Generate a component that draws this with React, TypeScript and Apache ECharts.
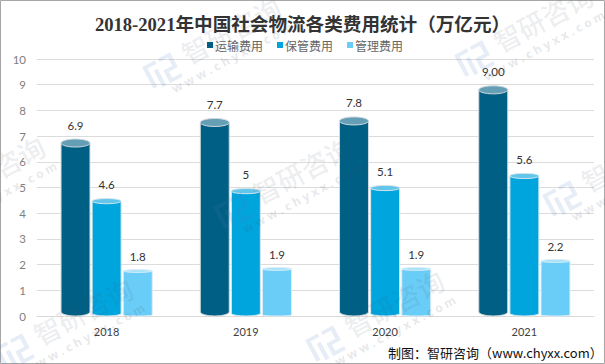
import React, { useEffect, useRef } from "react";
import * as echarts from "echarts";

const categories = ["2018", "2019", "2020", "2021"];
const seriesNames = ["运输费用", "保管费用", "管理费用"];
const transport = [6.73, 7.53, 7.59, 8.8];
const storage = [4.47, 4.86, 4.98, 5.45];
const admin = [1.75, 1.83, 1.83, 2.14];
const transportLabels = ["6.9", "7.7", "7.8", "9.00"];
const storageLabels = ["4.6", "5", "5.1", "5.6"];
const adminLabels = ["1.8", "1.9", "1.9", "2.2"];
const yTicks = { min: 0, max: 10, interval: 1 };

const bodyColors = ["#005f85", "#00a5de", "#69cdf7"];
const capColors = ["#659fb6", "#62c5ea", "#a6e1fa"];
const strokeColors = ["#d3dade", "#d8e6ee", "#d8eef8"];
const capRy = [4, 2.6, 1.4];
const bottomRy = [4, 2.6, 1];
const labelGap = [18, 16.5, 14.5];

const watermarkCenters = [
  [231, 30], [543, 18], [302, 170], [83, 311], [394, 303], [631, 158], [-5, 169],
];

const LOGO =
  "M0 0H20V5H6V34H0ZM12 12H18V38H12ZM25 0H44V23H30V33H44V38H24V18H38V5H25Z";
echarts.graphic.registerShape("logo", echarts.graphic.extendPath(LOGO as any, {}));

function makeSeries(name: string, idx: number, values: number[], labels: string[]) {
  return {
    name,
    type: "custom" as const,
    itemStyle: { color: bodyColors[idx] },
    data: values.map((v, i) => [i, v]),
    encode: { x: 0, y: 1 },
    renderItem: (params: any, api: any) => {
      const i = api.value(0);
      const top = api.coord([i, api.value(1)]);
      const base = api.coord([i, 0]);
      const bandWidth = api.size([1, 0])[0];
      const w = bandWidth * 0.208;
      const cx = top[0] + (idx - 1) * bandWidth * 0.2235;
      const rx = w / 2;
      const ry = capRy[idx];
      const by = bottomRy[idx];
      const l = cx - rx;
      const r = cx + rx;
      const y = top[1];
      const b = base[1];
      const d = `M${l} ${y}L${l} ${b - by}A${rx} ${by} 0 0 0 ${r} ${b - by}L${r} ${y}Z`;
      return {
        type: "group",
        children: [
          {
            type: "path",
            shape: { pathData: d, x: l, y, width: w, height: b - y },
            style: { fill: bodyColors[idx], stroke: strokeColors[idx], lineWidth: 1 },
          },
          {
            type: "ellipse",
            shape: { cx, cy: y, rx, ry },
            style: { fill: capColors[idx], stroke: strokeColors[idx], lineWidth: 1 },
          },
          {
            type: "text",
            style: {
              text: labels[i],
              x: cx,
              y: y - labelGap[idx],
              align: "center",
              verticalAlign: "middle",
              fill: "#333333",
              font: "11.5px Lato, sans-serif",
            },
          },
        ],
      };
    },
  };
}

function watermark([x, y]: number[]) {
  return {
    type: "group",
    x,
    y,
    rotation: 0.49,
    children: [
      {
        type: "text",
        z: 100,
        x: 0,
        y: 0,
        style: {
          text: "智研咨询",
          font: "500 27px 'Noto Sans CJK SC', sans-serif",
          fill: "rgba(70,80,100,0.11)",
          align: "center",
          verticalAlign: "middle",
        },
      },
      {
        type: "text",
        z: 100,
        x: -12,
        y: 25,
        style: {
          text: "w w w . c h y x x . c o m",
          font: "bold 12px 'Noto Sans', sans-serif",
          fill: "rgba(70,80,100,0.15)",
          align: "center",
          verticalAlign: "middle",
        },
      },
      {
        type: "logo",
        z: 100,
        x: -96,
        y: -9,
        scaleX: 0.72,
        scaleY: 0.72,
        style: { fill: "rgba(80,125,190,0.14)" },
      },
    ],
  };
}

export default function App() {
  const ref = useRef<HTMLDivElement>(null);
  useEffect(() => {
    const chart = echarts.init(ref.current!, null, { renderer: "svg" });
    chart.setOption({
      animation: false,
      backgroundColor: "#ffffff",
      title: {
        text: "2018-2021年中国社会物流各类费用统计（万亿元）",
        left: "center",
        top: 10,
        textStyle: {
          fontFamily: "'Liberation Serif', 'Noto Sans CJK SC', serif",
          fontWeight: "bold",
          fontSize: 18.6,
          color: "#333333",
        },
      },
      legend: {
        data: seriesNames,
        left: 202,
        top: 34,
        icon: "rect",
        itemWidth: 6,
        itemHeight: 6,
        itemGap: 14,
        textStyle: {
          fontFamily: "'Noto Sans CJK SC', sans-serif",
          fontSize: 12,
          color: "#666666",
          padding: [0, 0, 0, -3],
        },
      },
      grid: { left: 37, right: 11, top: 59, bottom: 48 },
      xAxis: {
        type: "category",
        data: categories,
        axisLine: { lineStyle: { color: "#d9d9d9", width: 1 } },
        axisTick: { show: false },
        axisLabel: { color: "#404040", fontFamily: "Lato", fontSize: 11, margin: 10 },
      },
      yAxis: {
        type: "value",
        min: yTicks.min,
        max: yTicks.max,
        interval: yTicks.interval,
        axisLine: { show: false },
        axisTick: { show: false },
        axisLabel: { color: "#7f7f7f", fontFamily: "Lato", fontSize: 11.5, margin: 11 },
        splitLine: { lineStyle: { color: "#dcdcdc", width: 1 } },
      },
      series: [
        makeSeries(seriesNames[0], 0, transport, transportLabels),
        makeSeries(seriesNames[1], 1, storage, storageLabels),
        makeSeries(seriesNames[2], 2, admin, adminLabels),
      ],
      graphic: [
        {
          type: "rect",
          z: 99,
          shape: { x: 0.5, y: 0.5, width: 604, height: 363 },
          style: { fill: "none", stroke: "#a6a6a6", lineWidth: 1 },
        },
        ...watermarkCenters.map(watermark),
        {
          type: "text",
          z: 101,
          x: 388,
          y: 352,
          style: {
            text: "制图：智研咨询（www.chyxx.com）",
            font: "13px 'Noto Sans CJK SC', sans-serif",
            fill: "#111111",
            align: "left",
            verticalAlign: "middle",
          },
        },
      ],
    });
    return () => chart.dispose();
  }, []);
  return (
    <div
      ref={ref}
      style={{ width: 605, height: 364, position: "absolute", left: 0, top: 0 }}
    />
  );
}
